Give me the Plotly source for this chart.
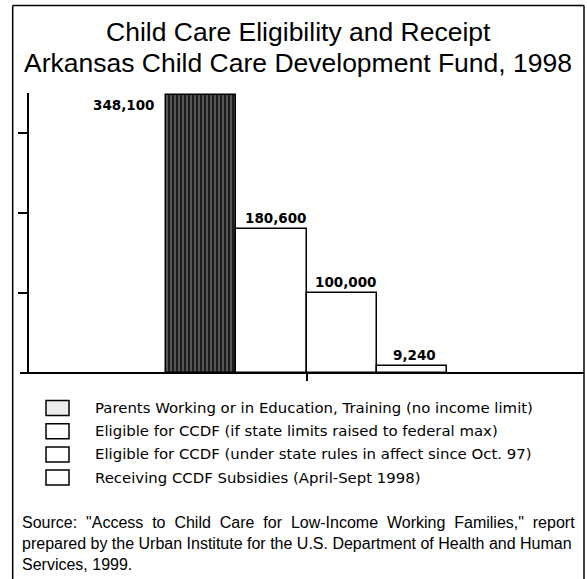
import plotly.graph_objects as go

# Data
categories = [
    "Parents Working or in Education, Training (no income limit)",
    "Eligible for CCDF (if state limits raised to federal max)",
    "Eligible for CCDF (under state rules in affect since Oct. 97)",
    "Receiving CCDF Subsidies (April-Sept 1998)",
]
values = [348100, 180600, 100000, 9240]
value_labels = ["348,100", "180,600", "100,000", "9,240"]
positions = [0, 1, 2, 3]

title_lines = [
    "Child Care Eligibility and Receipt",
    "Arkansas Child Care Development Fund, 1998",
]
source_lines = [
    "Source:\u00a0 \"Access\u00a0 to\u00a0 Child\u00a0 Care\u00a0 for\u00a0 Low-Income\u00a0 Working\u00a0 Families,\"\u00a0 report",
    "prepared by the Urban Institute for the U.S. Department of Health and Human",
    "Services, 1999.",
]

W, H = 587, 579
PL, PR, PT, PB = 29, 3, 93, 206
plot_w = W - PL - PR
plot_h = H - PT - PB


def px(x):
    return (x - PL) / plot_w


def py(y):
    return (H - PB - y) / plot_h


fig = go.Figure()

fig.add_trace(go.Bar(
    x=positions,
    y=values,
    width=1,
    marker=dict(
        color=["#1c1c1c", "white", "white", "white"],
        line=dict(color="black", width=1.5),
        pattern=dict(
            shape=["|", "", "", ""],
            fgcolor="#6a6a6a",
            size=4,
            solidity=0.25,
        ),
    ),
    showlegend=False,
    hoverinfo="skip",
))

# value labels
label_font = dict(family="DejaVu Sans", size=13.5, color="black", weight="bold")
fig.add_annotation(x=positions[0], y=values[0], text=value_labels[0],
                   xref="x", yref="y", xanchor="right", yanchor="top",
                   xshift=-44, yshift=0, showarrow=False, font=label_font)
label_shift = [None, -29, -29, -21]
for i in range(1, len(values)):
    fig.add_annotation(x=positions[i], y=values[i], text=value_labels[i],
                       xref="x", yref="y", xanchor="left", yanchor="bottom",
                       xshift=label_shift[i], yshift=1, showarrow=False,
                       font=label_font)

# title
title_font = dict(family="Arial, Liberation Sans", size=26.5, color="black")
for text, yc in zip(title_lines, [32, 63]):
    fig.add_annotation(x=px(298), y=py(yc), xref="paper", yref="paper",
                       text=text, showarrow=False, xanchor="center",
                       yanchor="middle", font=title_font)

# legend
legend_font = dict(family="DejaVu Sans", size=14.9, color="black")
swatch_fill = ["#ececec", "white", "white", "white"]
for i, name in enumerate(categories):
    yc = 408 + 23.2 * i
    fig.add_shape(type="rect", xref="paper", yref="paper",
                  x0=px(46), x1=px(69), y0=py(yc - 7.5), y1=py(yc + 7.5),
                  line=dict(color="black", width=1.5), fillcolor=swatch_fill[i])
    fig.add_annotation(x=px(93), y=py(yc), xref="paper", yref="paper",
                       text=name, showarrow=False, xanchor="left",
                       yanchor="middle", font=legend_font)

# source note
source_font = dict(family="Arial, Liberation Sans", size=16, color="black")
for text, yc in zip(source_lines, [522, 543, 564]):
    fig.add_annotation(x=px(20), y=py(yc), xref="paper", yref="paper",
                       text=text, showarrow=False, xanchor="left",
                       yanchor="middle", font=source_font)

# frame and baseline
fig.add_shape(type="line", xref="paper", yref="paper",
              x0=px(12.7), x1=px(12.7), y0=py(5.5), y1=py(590),
              line=dict(color="black", width=1.5))
fig.add_shape(type="line", xref="paper", yref="paper",
              x0=px(584), x1=px(584), y0=py(5.5), y1=py(590),
              line=dict(color="black", width=1.5))
fig.add_shape(type="line", xref="paper", yref="paper",
              x0=px(12.7), x1=px(584), y0=py(5.5), y1=py(5.5),
              line=dict(color="black", width=1.5))
fig.add_shape(type="line", xref="paper", yref="paper",
              x0=px(20), x1=1, y0=0, y1=0,
              line=dict(color="black", width=2))

fig.update_layout(
    width=W,
    height=H,
    margin=dict(l=PL, r=PR, t=PT, b=PB),
    paper_bgcolor="white",
    plot_bgcolor="white",
    bargap=0,
    xaxis=dict(
        range=[-2.464, 5.464],
        showgrid=False,
        zeroline=False,
        showline=False,
        tickmode="array",
        tickvals=[1.5],
        ticks="outside",
        ticklen=7,
        tickwidth=1.5,
        tickcolor="black",
        showticklabels=False,
    ),
    yaxis=dict(
        range=[0, 350000],
        showgrid=False,
        zeroline=False,
        showline=True,
        linecolor="black",
        linewidth=1.5,
        tickmode="array",
        tickvals=[100000, 200000, 300000],
        ticks="outside",
        ticklen=9,
        tickwidth=1.5,
        tickcolor="black",
        showticklabels=False,
    ),
)

fig.write_html("out.html", config={"displayModeBar": False},
               post_script="document.body.style.margin='0';")
